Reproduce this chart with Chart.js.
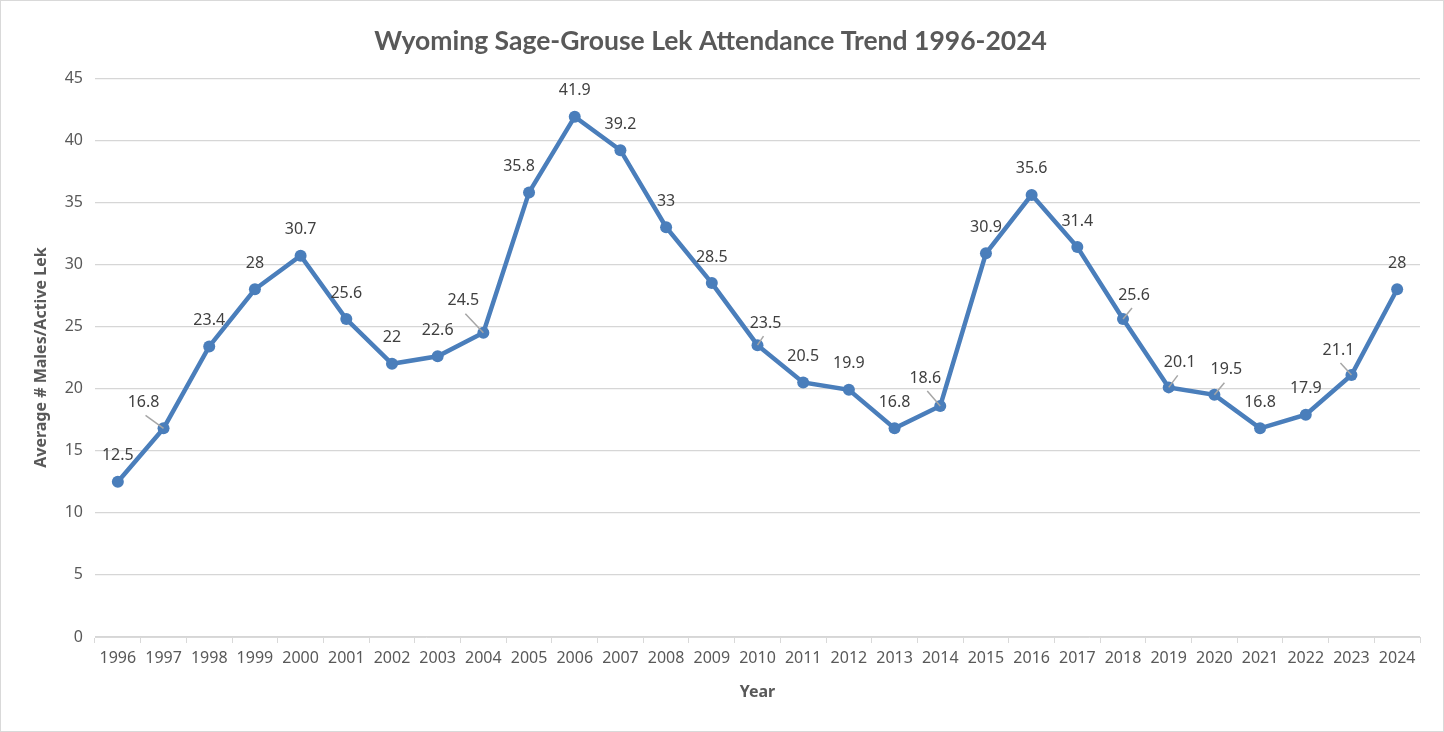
<!DOCTYPE html>
<html>
<head>
<meta charset="utf-8">
<script src="https://cdn.jsdelivr.net/npm/chart.js@4"></script>
<style>
  body { margin: 0; background: #fff; }
  #wrap { width: 1442px; height: 730px; border: 1px solid #d9d9d9; }
</style>
</head>
<body>
<div id="wrap"><canvas id="lekChart" width="1442" height="730"></canvas></div>
<script>
const years = ['1996', '1997', '1998', '1999', '2000', '2001', '2002', '2003', '2004', '2005',
  '2006', '2007', '2008', '2009', '2010', '2011', '2012', '2013', '2014', '2015',
  '2016', '2017', '2018', '2019', '2020', '2021', '2022', '2023', '2024'];
const malesPerLek = [12.5, 16.8, 23.4, 28, 30.7, 25.6, 22, 22.6, 24.5, 35.8,
  41.9, 39.2, 33, 28.5, 23.5, 20.5, 19.9, 16.8, 18.6, 30.9,
  35.6, 31.4, 25.6, 20.1, 19.5, 16.8, 17.9, 21.1, 28];
const yTicks = [0, 5, 10, 15, 20, 25, 30, 35, 40, 45];

// label nudges [dx, dy, leader] in px, like the moved labels in the original
const labelNudge = {
  1: [-20, 0, true], 8: [-20, -6, true], 9: [-10, 0, false], 14: [8, 4, true],
  18: [-15, -2, true], 22: [11, 2, true], 23: [11, 1, true], 24: [12, 1, true], 27: [-13, 1, true]
};

const grey = '#595959';
const lineBlue = '#4a7ebb';

const pointLabels = {
  id: 'pointLabels',
  afterDatasetsDraw(chart) {
    const ctx = chart.ctx;
    const meta = chart.getDatasetMeta(0);
    ctx.save();
    ctx.font = '16px "Noto Sans"';
    ctx.fillStyle = '#404040';
    ctx.textAlign = 'center';
    ctx.textBaseline = 'middle';
    meta.data.forEach((pt, i) => {
      const n = labelNudge[i] || [0, 0, false];
      const lx = pt.x + n[0];
      const ly = pt.y - 26 + n[1];
      if (n[2]) {
        ctx.strokeStyle = '#a6a6a6';
        ctx.lineWidth = 1.5;
        ctx.beginPath();
        ctx.moveTo(lx + (n[0] < 0 ? 2 : -2), ly + 13);
        ctx.lineTo(pt.x, pt.y);
        ctx.stroke();
      }
      ctx.fillText(String(malesPerLek[i]), lx, ly);
    });
    ctx.restore();
  }
};

new Chart(document.getElementById('lekChart'), {
  type: 'line',
  data: {
    labels: years,
    datasets: [{
      data: malesPerLek,
      borderColor: lineBlue,
      backgroundColor: lineBlue,
      borderWidth: 4.5,
      pointRadius: 6,
      pointBorderWidth: 0,
      tension: 0
    }]
  },
  options: {
    responsive: false,
    animation: false,
    layout: { padding: { left: 0, right: 23, top: 0, bottom: 0 } },
    plugins: {
      legend: { display: false },
      tooltip: { enabled: false },
      title: {
        display: true,
        text: 'Wyoming Sage-Grouse Lek Attendance Trend 1996-2024',
        color: grey,
        font: { family: 'Lato', size: 26.5, weight: 'bold', lineHeight: 1.1 },
        padding: { top: 26, bottom: 22 }
      }
    },
    scales: {
      x: {
        offset: true,
        grid: { drawOnChartArea: false, drawTicks: true, tickLength: 6, color: '#d9d9d9', offset: true },
        border: { color: '#d9d9d9', width: 1 },
        ticks: { color: grey, font: { family: 'Noto Sans', size: 16 }, padding: 6, maxRotation: 0, autoSkip: false },
        title: {
          display: true, text: 'Year', color: grey,
          font: { family: 'Noto Sans', size: 16, weight: 'bold', lineHeight: 1.2 },
          padding: { top: 0, bottom: 29 }
        },
        afterFit(scale) { scale.height = 94; }
      },
      y: {
        min: 0, max: 45,
        afterBuildTicks(scale) { scale.ticks = yTicks.map(v => ({ value: v })); },
        grid: { color: '#d6d6d6', lineWidth: 1.3, drawTicks: false },
        border: { display: false },
        ticks: { color: grey, font: { family: 'Noto Sans', size: 16 }, padding: 12 },
        title: {
          display: true, text: 'Average # Males/Active Lek', color: grey,
          font: { family: 'Noto Sans', size: 16, weight: 'bold', lineHeight: 1.2 },
          padding: { top: 31, bottom: 0 }
        },
        afterFit(scale) { scale.width = 94; }
      }
    }
  },
  plugins: [pointLabels]
});
</script>
</body>
</html>
